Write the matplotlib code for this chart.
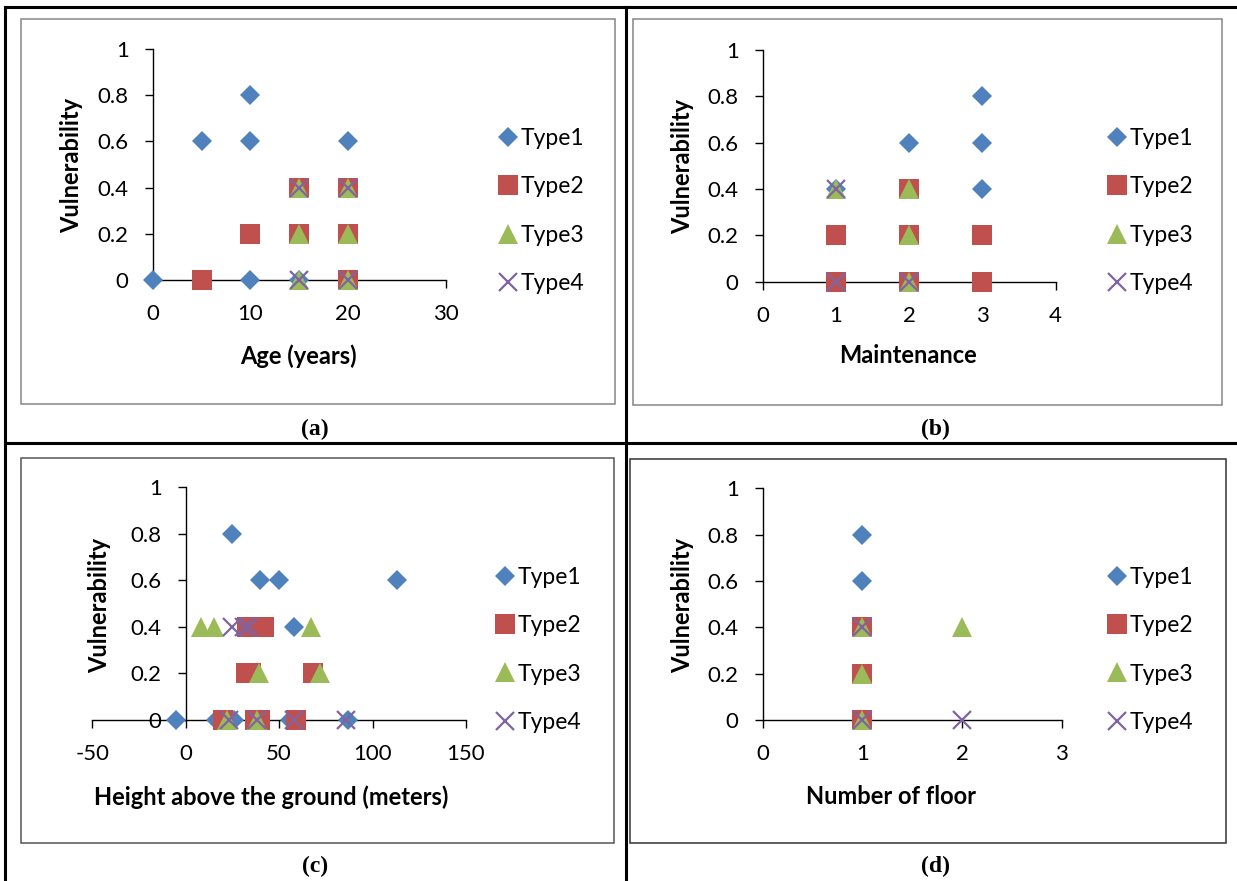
import matplotlib
matplotlib.use("Agg")
import matplotlib.pyplot as plt
from matplotlib.lines import Line2D
from matplotlib.patches import Rectangle

# --- data ---------------------------------------------------------------
series_names = ["Type1", "Type2", "Type3", "Type4"]
y_ticks = [0, 0.2, 0.4, 0.6, 0.8, 1]
y_tick_labels = ["0", "0.2", "0.4", "0.6", "0.8", "1"]

# (a) Age (years)
age_t1_x = [0, 5, 10, 10, 10, 15, 20]
age_t1_y = [0, 0.6, 0.8, 0.6, 0, 0, 0.6]
age_t2_x = [5, 10, 15, 15, 20, 20, 20]
age_t2_y = [0, 0.2, 0.4, 0.2, 0.4, 0.2, 0]
age_t3_x = [15, 15, 15, 20, 20, 20]
age_t3_y = [0.4, 0.2, 0, 0.4, 0.2, 0]
age_t4_x = [15, 15, 20, 20]
age_t4_y = [0.4, 0, 0.4, 0]

# (b) Maintenance
mnt_t1_x = [1, 2, 3, 3, 3]
mnt_t1_y = [0.4, 0.6, 0.8, 0.6, 0.4]
mnt_t2_x = [1, 1, 2, 2, 2, 3, 3]
mnt_t2_y = [0.2, 0, 0.4, 0.2, 0, 0.2, 0]
mnt_t3_x = [1, 2, 2, 2]
mnt_t3_y = [0.4, 0.4, 0.2, 0]
mnt_t4_x = [1, 1, 2]
mnt_t4_y = [0.4, 0, 0]

# (c) Height above the ground (meters)
hgt_t1_x = [-5, 16, 25, 26, 40, 50, 56, 58, 87, 113]
hgt_t1_y = [0, 0, 0.8, 0, 0.6, 0.6, 0, 0.4, 0, 0.6]
hgt_t2_x = [20, 37, 40, 59, 32, 35, 68, 33, 37, 42]
hgt_t2_y = [0, 0, 0, 0, 0.2, 0.2, 0.2, 0.4, 0.4, 0.4]
hgt_t3_x = [8, 15, 67, 39, 72, 22, 38]
hgt_t3_y = [0.4, 0.4, 0.4, 0.2, 0.2, 0, 0]
hgt_t4_x = [25, 31, 34, 23, 38, 58, 86]
hgt_t4_y = [0.4, 0.4, 0.4, 0, 0, 0, 0]

# (d) Number of floor
flr_t1_x = [1, 1]
flr_t1_y = [0.8, 0.6]
flr_t2_x = [1, 1, 1]
flr_t2_y = [0.4, 0.2, 0]
flr_t3_x = [1, 1, 1, 2]
flr_t3_y = [0.4, 0.2, 0, 0.4]
flr_t4_x = [1, 1, 2]
flr_t4_y = [0.4, 0, 0]

W, H = 1237, 881
plt.rcParams['font.family'] = ['Lato', 'DejaVu Sans']

fig = plt.figure(figsize=(W / 100, H / 100), dpi=100)

colors = ['#4F81BD', '#C0504D', '#9BBB59', '#8064A2']
markers = ['D', 's', '^', 'x']
msizes = [10, 14.4, 14.4, 13]


def fx(x):
    return x / W


def fy(y):
    return 1 - y / H


# outer table lines
for (x0, y0, x1, y1) in [(5, 7, 1237, 7), (5, 7, 5, 881), (626, 7, 626, 881), (5, 443, 1237, 443)]:
    fig.add_artist(Line2D([fx(x0), fx(x1)], [fy(y0), fy(y1)], color='black', lw=2.2))

# chart area boxes
for (x0, y0, x1, y1, c) in [(21, 19, 615, 404, '#868686'), (633, 19, 1222, 405, '#868686'),
                            (21, 458, 614, 843, '#555555'), (630, 459, 1226, 843, '#333333')]:
    fig.add_artist(Rectangle((fx(x0), fy(y1)), fx(x1 - x0), (y1 - y0) / H,
                             fill=False, edgecolor=c, lw=1.1))


def panel(px0, px1, py0, py1, xlim, xticks, xs, ys, xlabel, xlab_pos, ylab_pos, leg_pos):
    ax = fig.add_axes([fx(px0), fy(py0), (px1 - px0) / W, (py0 - py1) / H])
    ax.set_xlim(xlim)
    ax.set_ylim(0, 1)
    for sp in ['top', 'right']:
        ax.spines[sp].set_visible(False)
    if xlim[0] < 0:
        ax.spines['left'].set_position(('data', 0))
    for sp in ['left', 'bottom']:
        ax.spines[sp].set_linewidth(1.0)
    ax.set_xticks(xticks)
    ax.set_xticklabels([str(t) for t in xticks])
    ax.set_yticks(y_ticks)
    ax.set_yticklabels(y_tick_labels)
    ax.tick_params(axis='both', direction='out', length=5.8, width=1.0, labelsize=16)
    ax.tick_params(axis='x', pad=11.5)
    ax.tick_params(axis='y', pad=11.5)
    ax.patch.set_alpha(0)

    for i in range(4):
        ax.plot(xs[i], ys[i], linestyle='none', marker=markers[i], markersize=msizes[i],
                color=colors[i], markeredgewidth=1.6 if markers[i] == 'x' else 0,
                label=series_names[i], clip_on=False, zorder=3 + i)

    ax.set_xlabel(xlabel, fontsize=17, fontweight='bold')
    ax.xaxis.set_label_coords(*xlab_pos)
    ax.xaxis.label.set_va('center')
    ax.set_ylabel('Vulnerability', fontsize=17, fontweight='bold')
    ax.yaxis.set_label_coords(*ylab_pos)
    ax.yaxis.label.set_va('center')

    ax.legend(loc='center left', bbox_to_anchor=(fx(leg_pos[0]), fy(leg_pos[1])),
              bbox_transform=fig.transFigure, frameon=False, fontsize=16.5,
              handlelength=0.95, handletextpad=0.08, labelspacing=1.18,
              borderpad=0, borderaxespad=0, numpoints=1)
    return ax


panel(152.7, 445.7, 280, 49, (0, 30), [0, 10, 20, 30],
      [age_t1_x, age_t2_x, age_t3_x, age_t4_x], [age_t1_y, age_t2_y, age_t3_y, age_t4_y],
      'Age (years)', (0.496, -0.329), (-0.275, 0.498), (497.5, 211))

panel(762.7, 1055.7, 281.7, 50, (0, 4), [0, 1, 2, 3, 4],
      [mnt_t1_x, mnt_t2_x, mnt_t3_x, mnt_t4_x], [mnt_t1_y, mnt_t2_y, mnt_t3_y, mnt_t4_y],
      'Maintenance', (0.496, -0.32), (-0.272, 0.498), (1106, 211))

panel(92.3, 466, 720, 487.3, (-50, 150), [-50, 0, 50, 100, 150],
      [hgt_t1_x, hgt_t2_x, hgt_t3_x, hgt_t4_x], [hgt_t1_y, hgt_t2_y, hgt_t3_y, hgt_t4_y],
      'Height above the ground (meters)', (0.478, -0.331), (0.02, 0.494), (494.5, 650))

panel(762.7, 1061.7, 720, 488.3, (0, 3), [0, 1, 2, 3],
      [flr_t1_x, flr_t2_x, flr_t3_x, flr_t4_x], [flr_t1_y, flr_t2_y, flr_t3_y, flr_t4_y],
      'Number of floor', (0.429, -0.331), (-0.267, 0.494), (1106, 650))

# panel captions
for lab, x, y in [('(a)', 315, 429), ('(b)', 935, 429), ('(c)', 315, 866), ('(d)', 935, 866)]:
    fig.text(fx(x), fy(y), lab, ha='center', va='center', fontsize=17,
             fontweight='bold', family='Liberation Serif')

fig.savefig('out.png', dpi=100)
